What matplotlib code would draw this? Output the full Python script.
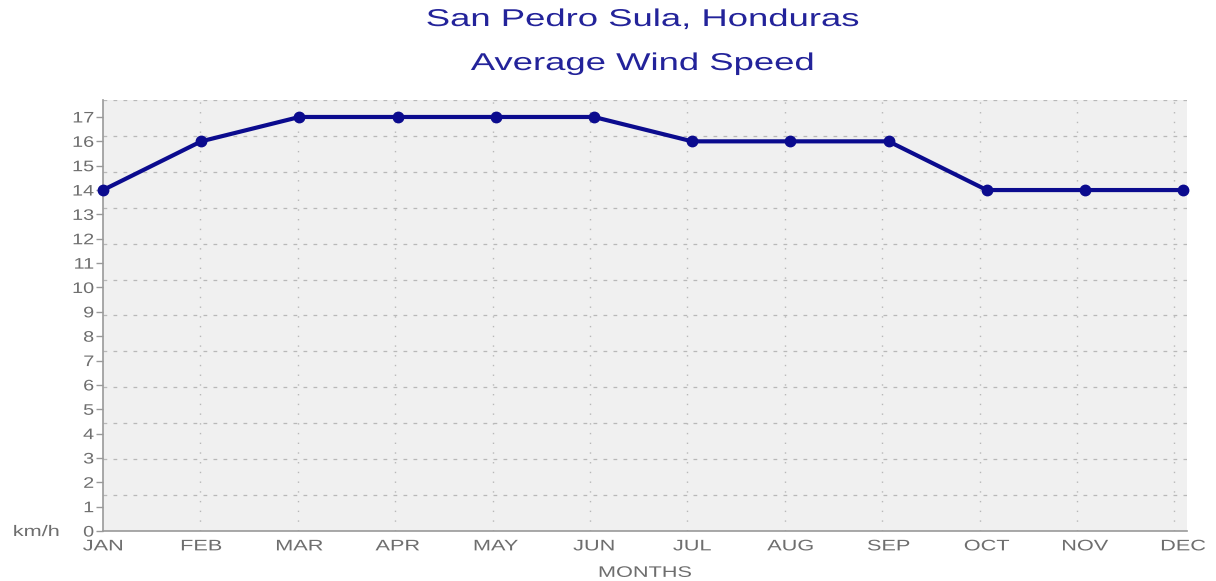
"""Average monthly wind speed for San Pedro Sula, Honduras."""
import matplotlib
matplotlib.use("Agg")
import matplotlib.pyplot as plt
import numpy as np
from matplotlib.patheffects import AbstractPathEffect
from matplotlib.transforms import Affine2D

months = ["JAN", "FEB", "MAR", "APR", "MAY", "JUN", "JUL", "AUG", "SEP", "OCT", "NOV", "DEC"]
wind_kmh = [14, 16, 17, 17, 17, 17, 16, 16, 16, 14, 14, 14]
y_ticks = list(range(0, 18))

plt.rcParams["font.family"] = ["Liberation Sans", "DejaVu Sans"]


class StretchX(AbstractPathEffect):
    """Draw text glyphs widened horizontally (the source image is stretched)."""

    def __init__(self, sx, anchor="center"):
        super().__init__()
        self.sx = sx
        self.anchor = anchor

    def draw_path(self, renderer, gc, tpath, affine, rgbFace=None):
        ext = tpath.get_extents()
        cx = {"left": ext.x0, "right": ext.x1, "center": (ext.x0 + ext.x1) / 2}[self.anchor]
        pre = Affine2D().translate(-cx, 0).scale(self.sx, 1).translate(cx, 0)
        renderer.draw_path(gc, tpath, pre + affine, rgbFace)


title_color = "#23239a"
label_color = "#6e6e6e"
grid_color = "#b8b8b8"
y_top = 17.7
wide = [StretchX(1.42)]

fig = plt.figure(figsize=(12.16, 5.81), dpi=100)
ax = fig.add_axes([0.0847, 0.086, 0.8915, 0.742])
ax.set_facecolor("#f0f0f0")

x = np.arange(len(months))
ax.set_xlim(0, 11.04)
ax.set_ylim(0, y_top)

# grid: 12 horizontal divisions of the full height, one vertical line per month
for k in range(1, 13):
    ax.axhline(y_top * k / 12, color=grid_color, lw=0.9, ls=(0, (3, 5)), zorder=1)
for k in range(1, 12):
    ax.axvline(k * 0.992, color=grid_color, lw=1.0, ls=(0, (1, 6)), zorder=1)

ax.plot(x, wind_kmh, color="#0b0b8e", lw=3, marker="o", ms=7.5, zorder=3, clip_on=False)

ax.set_xticks(x)
ax.set_xticklabels(months)
ax.set_yticks(y_ticks)
ax.tick_params(axis="both", colors=label_color, labelsize=11)
ax.tick_params(axis="x", length=0, pad=6)
ax.tick_params(axis="y", length=5, width=1, pad=1.5, color="#999999")
plt.setp(ax.get_xticklabels(), path_effects=wide)
plt.setp(ax.get_yticklabels(), path_effects=[StretchX(1.3, "right")])

for side in ("top", "right"):
    ax.spines[side].set_visible(False)
for side in ("left", "bottom"):
    ax.spines[side].set_color("#999999")
    ax.spines[side].set_linewidth(1.2)

ax.set_xlabel("MONTHS", color=label_color, fontsize=11, labelpad=9, path_effects=wide)
fig.text(0.0298, 1 - 532 / 581, "km/h", color=label_color, fontsize=11, ha="center", va="center",
         path_effects=wide)

fig.text(0.528, 1 - 20 / 581, "San Pedro Sula, Honduras", color=title_color, fontsize=17.5,
         ha="center", va="center", path_effects=[StretchX(1.5)])
fig.text(0.528, 1 - 64 / 581, "Average Wind Speed", color=title_color, fontsize=17.5,
         ha="center", va="center", path_effects=[StretchX(1.5)])

fig.savefig("out.png", dpi=100)
